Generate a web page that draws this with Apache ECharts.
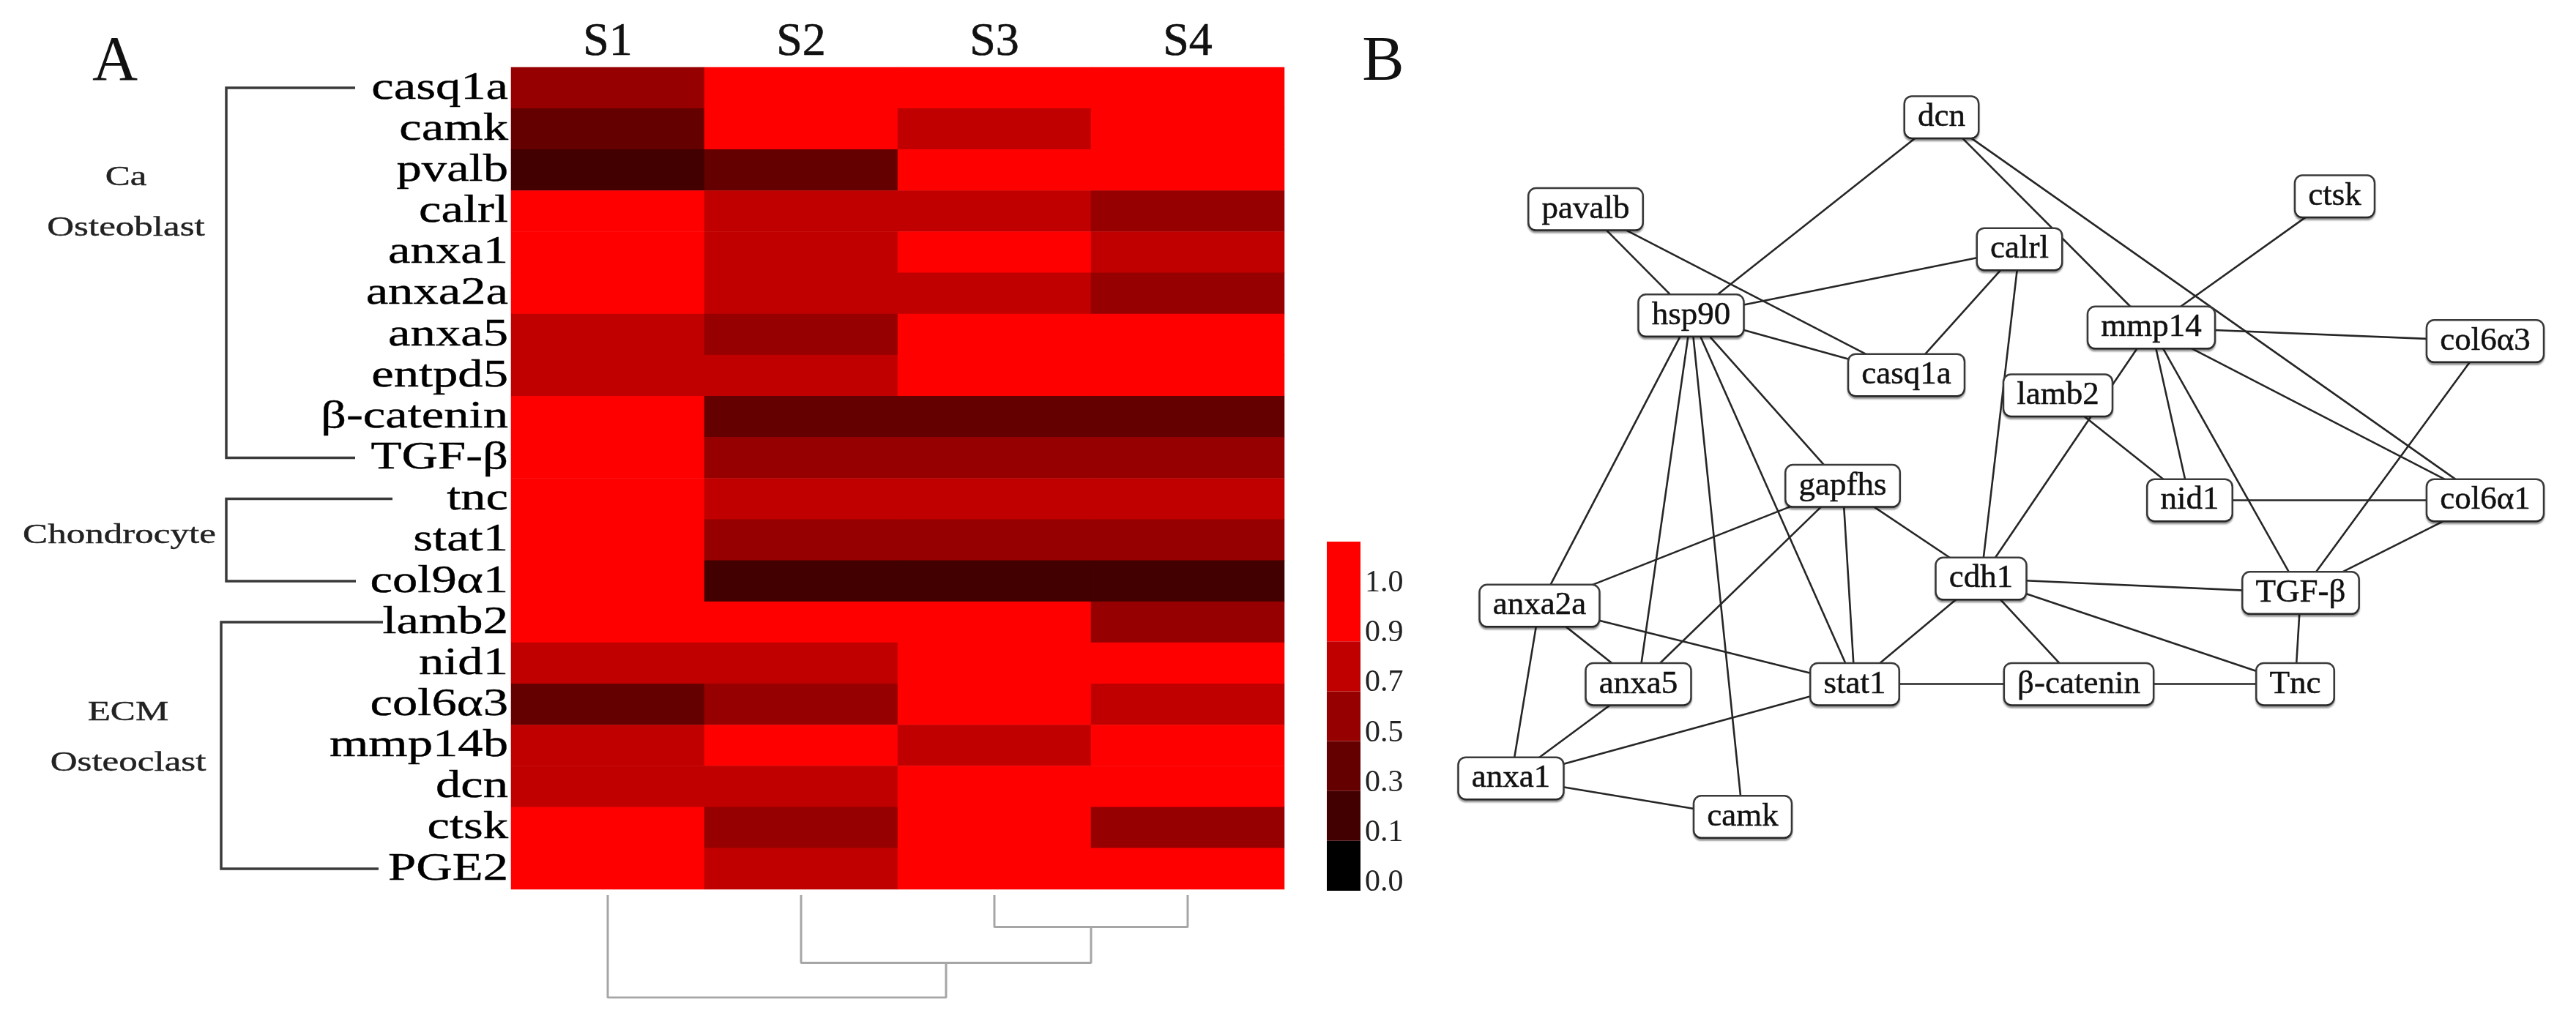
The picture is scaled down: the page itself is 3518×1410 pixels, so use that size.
<!DOCTYPE html>
<html><head><meta charset="utf-8">
<script src="https://cdn.jsdelivr.net/npm/echarts@6/dist/echarts.min.js"></script>
<style>html,body{margin:0;padding:0;background:#fff}#c{width:3518px;height:1410px}</style>
</head><body><div id="c"></div>
<script>
// ---------- data ----------
const samples = ['S1', 'S2', 'S3', 'S4'];
const genes = ['casq1a','camk','pvalb','calrl','anxa1','anxa2a','anxa5','entpd5','β-catenin','TGF-β','tnc','stat1','col9α1','lamb2','nid1','col6α3','mmp14b','dcn','ctsk','PGE2'];
const valS1 = [0.6,0.4,0.2,1.0,1.0,1.0,0.8,0.8,1.0,1.0,1.0,1.0,1.0,1.0,0.8,0.4,0.8,0.8,1.0,1.0];
const valS2 = [1.0,1.0,0.4,0.8,0.8,0.8,0.6,0.8,0.4,0.6,0.8,0.6,0.2,1.0,0.8,0.6,1.0,0.8,0.6,0.8];
const valS3 = [1.0,0.8,1.0,0.8,1.0,0.8,1.0,1.0,0.4,0.6,0.8,0.6,0.2,1.0,1.0,1.0,0.8,1.0,1.0,1.0];
const valS4 = [1.0,1.0,1.0,0.6,0.8,0.6,1.0,1.0,0.4,0.6,0.8,0.6,0.2,0.6,1.0,0.8,1.0,1.0,0.6,1.0];

const keyTicks = ['0.0','0.1','0.3','0.5','0.7','0.9','1.0'];
const keyBreaks = [0, 0.1, 0.3, 0.5, 0.7, 0.9, 1.1];
const keyColors = ['#000000','#420000','#640000','#960000','#c00000','#ff0000'];
const keySpan = [1, 1, 1, 1, 1, 2];

// dendrogram merges: [childA, childB, height]; leaves are 0..3, merges numbered 4,5,6
const merges = [[2, 3, 0.31], [1, 4, 0.66], [0, 5, 1.0]];

const groupLines = [['Ca', 'Osteoblast'], ['Chondrocyte'], ['ECM', 'Osteoclast']];
const groupRows = [[0, 9], [10, 12], [13, 19]];

const nodeNames = ['dcn','pavalb','calrl','ctsk','hsp90','mmp14','col6α3','casq1a','lamb2','gapfhs','nid1','col6α1','cdh1','TGF-β','anxa2a','anxa5','stat1','β-catenin','Tnc','anxa1','camk'];
const nodeX = [44.1, 11.7, 51.2, 79.9, 21.3, 63.2, 93.6, 40.9, 54.7, 35.1, 66.7, 93.6, 47.7, 76.8, 7.5, 16.5, 36.2, 56.6, 76.3, 4.9, 26.0];
const nodeY = [3.9, 16.1, 21.4, 14.4, 30.2, 31.8, 33.6, 38.1, 40.8, 52.8, 54.7, 54.7, 65.1, 67.0, 68.7, 79.1, 79.1, 79.1, 79.1, 91.6, 96.7];
const edges = [
  ['dcn','hsp90'],['dcn','mmp14'],['dcn','col6α1'],
  ['pavalb','hsp90'],['pavalb','casq1a'],
  ['calrl','hsp90'],['calrl','casq1a'],['calrl','cdh1'],
  ['hsp90','casq1a'],['hsp90','anxa2a'],['hsp90','anxa5'],['hsp90','camk'],['hsp90','stat1'],['hsp90','gapfhs'],
  ['ctsk','mmp14'],['mmp14','col6α3'],['mmp14','nid1'],['mmp14','col6α1'],['mmp14','TGF-β'],['mmp14','cdh1'],
  ['lamb2','nid1'],['nid1','col6α1'],['col6α3','TGF-β'],['col6α1','TGF-β'],
  ['gapfhs','anxa2a'],['gapfhs','anxa5'],['gapfhs','cdh1'],['gapfhs','stat1'],
  ['anxa2a','anxa5'],['anxa2a','stat1'],['anxa2a','anxa1'],['anxa5','anxa1'],
  ['stat1','anxa1'],['stat1','cdh1'],['stat1','β-catenin'],
  ['β-catenin','Tnc'],['β-catenin','cdh1'],['cdh1','Tnc'],['cdh1','TGF-β'],['TGF-β','Tnc'],
  ['anxa1','camk']
];

// ---------- build ----------
const SERIF = '"Liberation Serif", "Times New Roman", serif';
const cols = [valS1, valS2, valS3, valS4];
const heatData = [];
cols.forEach((col, x) => col.forEach((v, y) => heatData.push([x, y, v])));

const pieces = keyColors.map((c, i) => ({ gte: keyBreaks[i], lt: keyBreaks[i + 1], color: c }));

const keySeries = keyColors.map((c, i) => ({
  type: 'bar', xAxisIndex: 1, yAxisIndex: 1, stack: 'key', barWidth: '100%',
  data: [keySpan[i]], itemStyle: { color: c }, silent: true
}));

// dendrogram
const nodePos = samples.map((s, i) => ({ x: i, h: 0 }));
const dendroSeries = merges.map(([a, b, h]) => {
  const A = nodePos[a], B = nodePos[b];
  nodePos.push({ x: (A.x + B.x) / 2, h: h });
  return {
    type: 'line', xAxisIndex: 2, yAxisIndex: 2, symbol: 'none', silent: true,
    lineStyle: { color: '#a6a6a6', width: 3 },
    data: [[A.x, A.h], [A.x, h], [B.x, h], [B.x, B.h]]
  };
});

const chart = echarts.init(document.getElementById('c'));
const option = {
  animation: false,
  backgroundColor: '#ffffff',
  grid: [
    { left: 698, top: 92, width: 1056, height: 1123 },
    { left: 1812, top: 740, width: 46, height: 477 },
    { left: 698, top: 1223, width: 1056, height: 140 },
    { left: 1990, top: 120, width: 1500, height: 1030 }
  ],
  xAxis: [
    { gridIndex: 0, type: 'category', data: samples, position: 'top',
      axisLine: { show: false }, axisTick: { show: false }, splitLine: { show: false },
      axisLabel: { fontFamily: SERIF, fontSize: 64, color: '#111', margin: 2,
        textBorderColor: '#111', textBorderWidth: 0.6 } },
    { gridIndex: 1, type: 'category', data: ['key'], show: false },
    { gridIndex: 2, type: 'value', min: -0.5, max: 3.5, show: false },
    { gridIndex: 3, type: 'value', min: 0, max: 100, show: false }
  ],
  yAxis: [
    { gridIndex: 0, type: 'category', data: genes, inverse: true, show: false },
    { gridIndex: 1, type: 'value', min: 0, max: 7, interval: 1, position: 'right',
      axisLine: { show: false }, axisTick: { show: false }, splitLine: { show: false },
      axisLabel: { fontFamily: SERIF, fontSize: 42, color: '#222', margin: 6,
        verticalAlign: 'bottom', lineHeight: 22,
        formatter: v => keyTicks[v] !== undefined ? keyTicks[v] : '' } },
    { gridIndex: 2, type: 'value', min: 0, max: 1, inverse: true, show: false },
    { gridIndex: 3, type: 'value', min: 0, max: 100, inverse: true, show: false }
  ],
  visualMap: { type: 'piecewise', show: false, seriesIndex: 0, dimension: 2, pieces: pieces },
  series: [
    { type: 'heatmap', xAxisIndex: 0, yAxisIndex: 0, data: heatData, silent: true,
      itemStyle: { borderWidth: 0 }, emphasis: { disabled: true } },
    { type: 'custom', xAxisIndex: 0, yAxisIndex: 0, silent: true,
      data: genes.map((g, i) => [0, i]),
      renderItem: (params, api) => {
        const i = params.dataIndex;
        const p = api.coord([0, i]);
        const half = api.size([1, 0])[0] / 2;
        return { type: 'text', x: p[0] - half - 4, y: p[1] + 1, scaleX: 1.32,
          style: { text: genes[i], fontFamily: SERIF, fontSize: 52, fill: '#000',
            stroke: '#000', lineWidth: 0.4,
            align: 'right', textAlign: 'right', verticalAlign: 'middle', textVerticalAlign: 'middle' } };
      } },
    ...keySeries,
    ...dendroSeries,
    { type: 'graph', coordinateSystem: 'cartesian2d', xAxisIndex: 3, yAxisIndex: 3,
      silent: true, symbolSize: 1, itemStyle: { color: 'rgba(0,0,0,0)' },
      emphasis: { disabled: true },
      lineStyle: { color: '#262626', width: 2.6, opacity: 1, curveness: 0 },
      label: { show: true, position: 'inside', formatter: '{b}', fontFamily: SERIF, fontSize: 45, color: '#111',
        textBorderColor: '#111', textBorderWidth: 0.5,
        backgroundColor: '#ffffff', borderColor: '#3a3a3a', borderWidth: 2.5, borderRadius: 9,
        padding: [6, 17, 4, 17], shadowColor: 'rgba(0,0,0,0.35)', shadowBlur: 2, shadowOffsetY: 3 },
      data: nodeNames.map((n, i) => ({ name: n, value: [nodeX[i], nodeY[i]] })),
      links: edges.map(([s, t]) => ({ source: s, target: t }))
    }
  ]
};
chart.setOption(option);

// ---------- annotations (brackets, group labels, panel letters) ----------
const bracketX = [309, 309, 302];
const armEnds = [[485, 485], [536, 486], [523, 517]];
const labelPos = [[[172, 243], [172, 312]], [[163, 732]], [[175, 974], [175, 1043]]];
const graphics = [];
groupRows.forEach(([r0, r1], k) => {
  const y0 = chart.convertToPixel({ gridIndex: 0 }, [0, r0])[1];
  const y1 = chart.convertToPixel({ gridIndex: 0 }, [0, r1])[1];
  graphics.push({ type: 'polyline', silent: true,
    shape: { points: [[armEnds[k][0], y0], [bracketX[k], y0], [bracketX[k], y1], [armEnds[k][1], y1]] },
    style: { stroke: '#3a3a3a', lineWidth: 3.5, fill: null } });
  groupLines[k].forEach((t, j) => {
    graphics.push({ type: 'text', silent: true, x: labelPos[k][j][0], y: labelPos[k][j][1], scaleX: 1.38,
      style: { text: t, fontFamily: SERIF, fontSize: 37, fill: '#222', stroke: '#222', lineWidth: 0.4,
        textAlign: 'center', align: 'center', textVerticalAlign: 'middle', verticalAlign: 'middle' } });
  });
});
[['A', 157, 86], ['B', 1889, 86]].forEach(([t, x, y]) => {
  graphics.push({ type: 'text', silent: true, x: x, y: y,
    style: { text: t, fontFamily: SERIF, fontSize: 86, fill: '#111',
      textAlign: 'center', align: 'center', textVerticalAlign: 'middle', verticalAlign: 'middle' } });
});
chart.setOption({ graphic: graphics });
</script>
</body></html>
